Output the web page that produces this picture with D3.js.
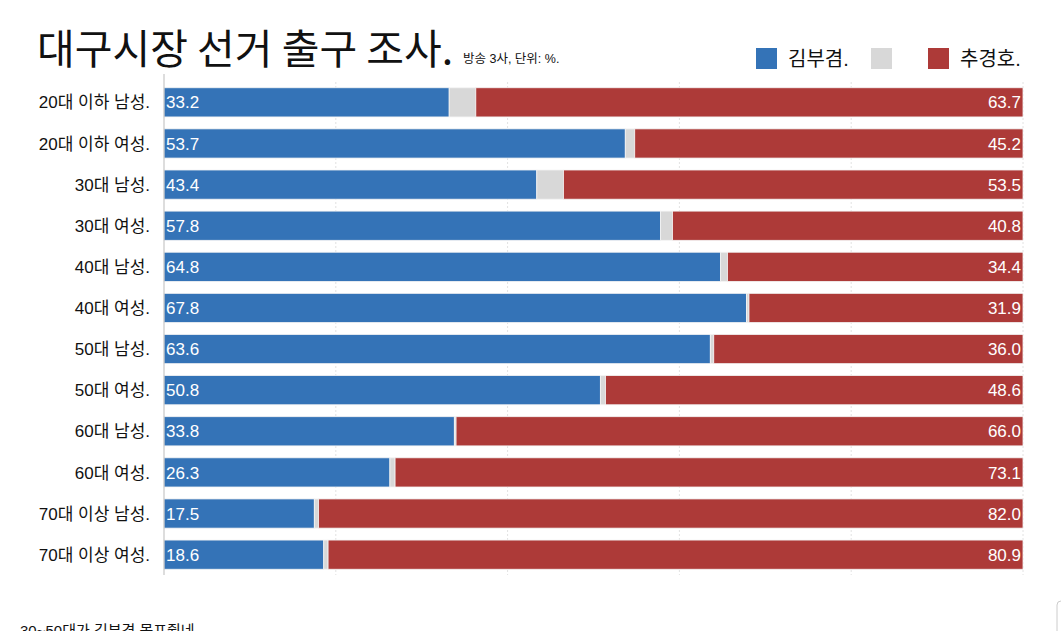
<!DOCTYPE html>
<html>
<head>
<meta charset="utf-8">
<script src="https://cdn.jsdelivr.net/npm/d3@7"></script>
<style>
  body { margin: 0; background: #fff; overflow: hidden; }
  svg { display: block; font-family: "Liberation Sans", "Noto Sans CJK KR", sans-serif; }
</style>
</head>
<body>
<script>
// 데이터
const groups = ['20대 이하 남성.', '20대 이하 여성.', '30대 남성.', '30대 여성.', '40대 남성.', '40대 여성.',
  '50대 남성.', '50대 여성.', '60대 남성.', '60대 여성.', '70대 이상 남성.', '70대 이상 여성.']
const kim = [33.2, 53.7, 43.4, 57.8, 64.8, 67.8, 63.6, 50.8, 33.8, 26.3, 17.5, 18.6]
const choo = [63.7, 45.2, 53.5, 40.8, 34.4, 31.9, 36.0, 48.6, 66.0, 73.1, 82.0, 80.9]
const legendNames = ['김부겸.', '', '추경호.']
const gridTicks = [0, 20, 40, 60, 80, 100]

const colors = ['#3473b7', '#d8d8d8', '#ad3a38']

const width = 1061, height = 631
const margin = { top: 82, right: 38, bottom: 56, left: 164 }

let svg = d3.select('body').append('svg')
  .attr('width', width)
  .attr('height', height)

let x = d3.scaleLinear()
  .domain([0, 100])
  .range([margin.left, width - margin.right])

let y = d3.scaleBand()
  .domain(groups)
  .range([margin.top, height - margin.bottom])
  .paddingInner(0.29)
  .paddingOuter(0.14)

// 세로 격자선
svg.append('g')
  .selectAll('line')
  .data(gridTicks.slice(1))
  .join('line')
  .attr('x1', d => x(d)).attr('x2', d => x(d))
  .attr('y1', margin.top).attr('y2', height - margin.bottom)
  .attr('stroke', '#e2e2e2')
  .attr('stroke-dasharray', '2,2')

// 막대 데이터: 김부겸, 기타, 추경호
let rows = groups.map((g, i) => {
  let other = Math.max(0, 100 - kim[i] - choo[i])
  return { g: g, parts: [[0, kim[i]], [kim[i], kim[i] + other], [kim[i] + other, 100]], kim: kim[i], choo: choo[i] }
})

let rowG = svg.append('g')
  .selectAll('g')
  .data(rows)
  .join('g')

rowG.selectAll('rect')
  .data(d => d.parts.map((p, j) => ({ g: d.g, p: p, j: j })))
  .join('rect')
  .attr('x', d => x(d.p[0]))
  .attr('width', d => Math.max(0, x(d.p[1]) - x(d.p[0])))
  .attr('y', d => y(d.g))
  .attr('height', y.bandwidth())
  .attr('fill', d => colors[d.j])
  .attr('stroke', '#f4f4f4')
  .attr('stroke-width', 0.8)

// 값 라벨
rowG.append('text')
  .attr('x', x(0) + 2)
  .attr('y', d => y(d.g) + y.bandwidth() / 2)
  .attr('dy', '0.36em')
  .attr('fill', '#fff')
  .attr('font-size', 17)
  .text(d => d.kim.toFixed(1))

rowG.append('text')
  .attr('x', x(100) - 2)
  .attr('y', d => y(d.g) + y.bandwidth() / 2)
  .attr('dy', '0.36em')
  .attr('text-anchor', 'end')
  .attr('fill', '#fff')
  .attr('font-size', 17)
  .text(d => d.choo.toFixed(1))

// 왼쪽 축
svg.append('line')
  .attr('x1', x(0)).attr('x2', x(0))
  .attr('y1', margin.top - 8).attr('y2', height - margin.bottom)
  .attr('stroke', '#bbb')

svg.append('g')
  .selectAll('text')
  .data(groups)
  .join('text')
  .attr('x', x(0) - 14)
  .attr('y', d => y(d) + y.bandwidth() / 2)
  .attr('dy', '0.36em')
  .attr('text-anchor', 'end')
  .attr('font-size', 17)
  .attr('fill', '#111')
  .text(d => d)

// 제목
svg.append('text')
  .attr('x', 37).attr('y', 64)
  .attr('font-family', '"Noto Sans CJK KR", sans-serif')
  .attr('font-size', 41)
  .attr('letter-spacing', 0)
  .attr('fill', '#111')
  .text('대구시장 선거 출구 조사.')

svg.append('text')
  .attr('x', 463).attr('y', 63)
  .attr('font-size', 12.5)
  .attr('fill', '#111')
  .text('방송 3사, 단위: %.')

// 범례
const legendX = [756, 871, 928]
let lg = svg.append('g')
  .selectAll('g')
  .data(legendNames)
  .join('g')
  .attr('transform', (d, i) => 'translate(' + legendX[i] + ',48)')
lg.append('rect')
  .attr('width', 21).attr('height', 21)
  .attr('fill', (d, i) => colors[i])
lg.append('text')
  .attr('x', 32).attr('y', 10.5)
  .attr('dy', '0.36em')
  .attr('font-size', 20)
  .attr('fill', '#111')
  .text(d => d)

// 아래 글 (원본처럼 아래가 잘림)
svg.append('text')
  .attr('x', 20).attr('y', 636)
  .attr('font-size', 15)
  .attr('fill', '#111')
  .text('30~50대가 김부겸 몰표줬네')

svg.append('rect')
  .attr('x', 1057).attr('y', 601)
  .attr('width', 20).attr('height', 40)
  .attr('rx', 4)
  .attr('fill', 'none')
  .attr('stroke', '#ccc')
</script>
</body>
</html>
